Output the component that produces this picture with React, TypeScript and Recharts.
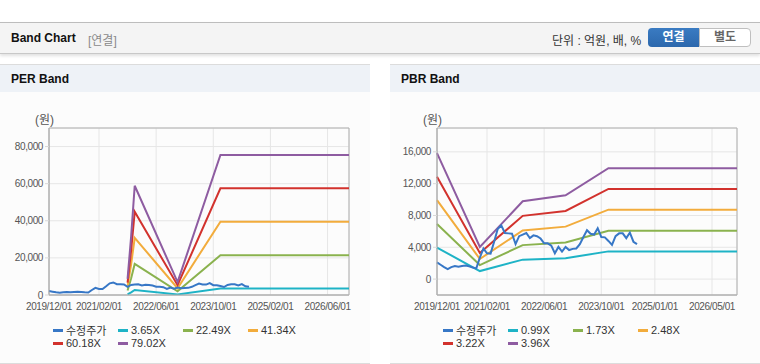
import React from "react";
import { LineChart, Line, XAxis, YAxis, CartesianGrid, ReferenceArea } from "recharts";

// ---------- data ----------
const priceLabel = "수정주가";
const priceDates = [
  "2019/12", "2020/01", "2020/02", "2020/03", "2020/04", "2020/05", "2020/06", "2020/07", "2020/08", "2020/09",
  "2020/10", "2020/11", "2020/12", "2021/01", "2021/02", "2021/03", "2021/04", "2021/05", "2021/06", "2021/07",
  "2021/08", "2021/09", "2021/10", "2021/11", "2021/12", "2022/01", "2022/02", "2022/03", "2022/04", "2022/05",
  "2022/06", "2022/07", "2022/08", "2022/09", "2022/10", "2022/11", "2022/12", "2023/01", "2023/02", "2023/03",
  "2023/04", "2023/05", "2023/06", "2023/07", "2023/08", "2023/09", "2023/10", "2023/11", "2023/12", "2024/01",
  "2024/02", "2024/03", "2024/04", "2024/05", "2024/06", "2024/07", "2024/08",
];
const priceValues = [
  2100, 1800, 1500, 1250, 1500, 1650, 1550, 1650, 1700, 1600,
  1450, 1350, 2700, 3850, 3250, 3200, 4700, 6300, 6750, 5800,
  5750, 5700, 4400, 5400, 5600, 5800, 5150, 5500, 5400, 5100,
  4500, 4500, 4200, 3250, 4050, 3450, 4050, 3650, 3800, 3850,
  4400, 5300, 6150, 5700, 5600, 6400, 5300, 5250, 4800, 4300,
  5400, 5750, 5750, 5150, 5850, 4700, 4400,
];

const perBandDates = ["2021/10", "2021/11", "2021/12", "2022/12", "2023/12", "2026/12"];
const perEps = [110, 400, 745, 88, 955, 955];
const perMultiples = [3.65, 22.49, 41.34, 60.18, 79.02];
const perBandLabels = ["3.65X", "22.49X", "41.34X", "60.18X", "79.02X"];
const perXTickLabels = ["2019/12/01", "2021/02/01", "2022/06/01", "2023/10/01", "2025/02/01", "2026/06/01"];
const perYTicks = [0, 20000, 40000, 60000, 80000];
const perYDomain = [0, 90000];

const pbrBandDates = ["2019/12", "2020/12", "2021/12", "2022/12", "2023/12", "2026/12"];
const pbrBps = [4000, 1020, 2470, 2660, 3520, 3520];
const pbrMultiples = [0.99, 1.73, 2.48, 3.22, 3.96];
const pbrBandLabels = ["0.99X", "1.73X", "2.48X", "3.22X", "3.96X"];
const pbrXTickLabels = ["2019/12/01", "2021/02/01", "2022/06/01", "2023/10/01", "2025/01/01", "2026/05/01"];
const pbrYTicks = [0, 4000, 8000, 12000, 16000];
const pbrYDomain = [-2000, 19000];

const axisStart = "2019/12";
const axisEnd = "2026/12";

const priceColor = "#3777c6";
const bandColors = ["#1eb3c6", "#8ab24e", "#f2ac3c", "#d2322d", "#8e5ca1"];

// ---------- helpers ----------
function toMonth(d: string): number {
  const [y, m] = d.split("/").map((s) => parseInt(s, 10));
  const [y0, m0] = axisStart.split("/").map((s) => parseInt(s, 10));
  return (y - y0) * 12 + (m - m0);
}

function buildTable(bandDates: string[], base: number[], multiples: number[]) {
  const rows = new Map<number, any>();
  const row = (m: number) => {
    if (!rows.has(m)) rows.set(m, { m });
    return rows.get(m);
  };
  priceDates.forEach((d, i) => {
    row(toMonth(d)).price = priceValues[i];
  });
  bandDates.forEach((d, i) => {
    const r = row(toMonth(d));
    multiples.forEach((k, j) => {
      r["b" + j] = Math.round(k * base[i]);
    });
  });
  return Array.from(rows.values()).sort((a, b) => a.m - b.m);
}

const FONT = '"Liberation Sans", Arial, "Noto Sans CJK KR", sans-serif';

type ChartProps = {
  left: number;
  yWidth: number;
  data: any[];
  yDomain: number[];
  yTicks: number[];
  xTickLabels: string[];
  bandLabels: string[];
};

function BandChart({ left, yWidth, data, yDomain, yTicks, xTickLabels, bandLabels }: ChartProps) {
  const xTicks = xTickLabels.map((l) => toMonth(l.slice(0, 7)));
  const labelMap: Record<number, string> = {};
  xTicks.forEach((t, i) => (labelMap[t] = xTickLabels[i]));
  const xMax = toMonth(axisEnd);
  return (
    <div style={{ position: "absolute", left, top: 100 }}>
      <LineChart
        width={370}
        height={220}
        data={data}
        margin={{ top: 28, right: 370 - yWidth - 300, bottom: 0, left: 0 }}
      >
        <CartesianGrid stroke="#e6e6e6" />
        <ReferenceArea
          x1={0}
          x2={xMax}
          y1={yDomain[0]}
          y2={yDomain[1]}
          fill="none"
          stroke="#b0b0b0"
          strokeOpacity={1}
          ifOverflow="extendDomain"
        />
        <XAxis
          dataKey="m"
          type="number"
          domain={[0, xMax]}
          ticks={xTicks}
          interval={0}
          tickFormatter={(v: number) => labelMap[v] ?? ""}
          tickLine={false}
          axisLine={{ stroke: "#b0b0b0" }}
          tick={{ fontSize: 10, fill: "#555", fontFamily: FONT, letterSpacing: -0.4 }}
          height={25}
        />
        <YAxis
          type="number"
          domain={yDomain}
          ticks={yTicks}
          interval={0}
          width={yWidth}
          tickFormatter={(v: number) => v.toLocaleString("en-US")}
          tickSize={4}
          tickMargin={2}
          tickLine={{ stroke: "#d8d8d8" }}
          axisLine={{ stroke: "#b0b0b0" }}
          tick={{ fontSize: 10, fill: "#555", fontFamily: FONT, letterSpacing: -0.4 }}
          allowDataOverflow
        />
        {bandLabels.map((name, j) => (
          <Line
            key={name}
            dataKey={"b" + j}
            name={name}
            stroke={bandColors[j]}
            strokeWidth={2}
            dot={false}
            activeDot={false}
            connectNulls
            isAnimationActive={false}
          />
        ))}
        <Line
          dataKey="price"
          name={priceLabel}
          stroke={priceColor}
          strokeWidth={2}
          dot={false}
          activeDot={false}
          connectNulls
          isAnimationActive={false}
        />
      </LineChart>
    </div>
  );
}

function LegendBlock({ left, bandLabels }: { left: number; bandLabels: string[] }) {
  const items = [{ name: priceLabel, color: priceColor }, ...bandLabels.map((n, i) => ({ name: n, color: bandColors[i] }))];
  return (
    <>
      {items.map((it, i) => {
        const col = i % 4;
        const rowI = Math.floor(i / 4);
        return (
          <div
            key={it.name}
            style={{
              position: "absolute",
              left: left + col * 65,
              top: 323 + rowI * 13.3,
              height: 14,
              display: "flex",
              alignItems: "center",
              fontSize: 11,
              color: "#333",
              fontFamily: FONT,
              whiteSpace: "nowrap",
            }}
          >
            <span style={{ display: "inline-block", width: 10, height: 3, background: it.color, marginRight: 3 }} />
            <span>{it.name}</span>
          </div>
        );
      })}
    </>
  );
}

function Panel({ left, title }: { left: number; title: string }) {
  return (
    <div
      style={{
        position: "absolute",
        left,
        top: 64,
        width: 370,
        height: 298,
        background: "#fcfcfc",
        borderTop: "1px solid #dcdcdc",
        borderBottom: "1px solid #dcdcdc",
      }}
    >
      <div
        style={{
          height: 27,
          background: "#eef2f7",
          fontFamily: FONT,
          fontWeight: "bold",
          fontSize: 12,
          color: "#111",
          lineHeight: "28px",
          paddingLeft: 11,
        }}
      >
        {title}
      </div>
    </div>
  );
}

export default function App() {
  const perData = buildTable(perBandDates, perEps, perMultiples);
  const pbrData = buildTable(pbrBandDates, pbrBps, pbrMultiples);
  return (
    <div style={{ position: "absolute", left: 0, top: 0, width: 760, height: 364, background: "#fff", overflow: "hidden", fontFamily: FONT }}>
      {/* header */}
      <div
        style={{
          position: "absolute",
          left: 0,
          top: 22,
          width: 760,
          height: 30,
          background: "#f4f4f4",
          borderTop: "1px solid #bdbdbd",
          borderBottom: "1px solid #c8c8c8",
          boxShadow: "0 2px 3px rgba(0,0,0,0.12)",
        }}
      >
        <span style={{ position: "absolute", left: 11, top: 8, fontSize: 12, fontWeight: "bold", color: "#111" }}>Band Chart</span>
        <span style={{ position: "absolute", left: 88, top: 8, fontSize: 12, color: "#8a8a8a" }}>[연결]</span>
        <span style={{ position: "absolute", left: 552, top: 8, fontSize: 12, color: "#333" }}>단위 : 억원, 배, %</span>
        <div
          style={{
            position: "absolute",
            left: 648,
            top: 5,
            width: 51,
            height: 19,
            background: "linear-gradient(#3a7bc2, #2c68ad)",
            borderRadius: "4px 0 0 4px",
            color: "#fff",
            fontSize: 12,
            fontWeight: "bold",
            textAlign: "center",
            lineHeight: "19px",
          }}
        >
          연결
        </div>
        <div
          style={{
            position: "absolute",
            left: 699,
            top: 5,
            width: 50,
            height: 17,
            background: "#fff",
            border: "1px solid #bfbfbf",
            borderRadius: "0 4px 4px 0",
            color: "#666",
            fontSize: 12,
            fontWeight: "bold",
            textAlign: "center",
            lineHeight: "17px",
          }}
        >
          별도
        </div>
      </div>

      <Panel left={0} title="PER Band" />
      <Panel left={390} title="PBR Band" />

      <span style={{ position: "absolute", left: 35, top: 110, fontSize: 12, color: "#555" }}>(원)</span>
      <span style={{ position: "absolute", left: 423, top: 110, fontSize: 12, color: "#555" }}>(원)</span>

      <BandChart
        left={0}
        yWidth={49}
        data={perData}
        yDomain={perYDomain}
        yTicks={perYTicks}
        xTickLabels={perXTickLabels}
        bandLabels={perBandLabels}
      />
      <BandChart
        left={390}
        yWidth={47}
        data={pbrData}
        yDomain={pbrYDomain}
        yTicks={pbrYTicks}
        xTickLabels={pbrXTickLabels}
        bandLabels={pbrBandLabels}
      />

      <LegendBlock left={53} bandLabels={perBandLabels} />
      <LegendBlock left={443} bandLabels={pbrBandLabels} />
    </div>
  );
}
